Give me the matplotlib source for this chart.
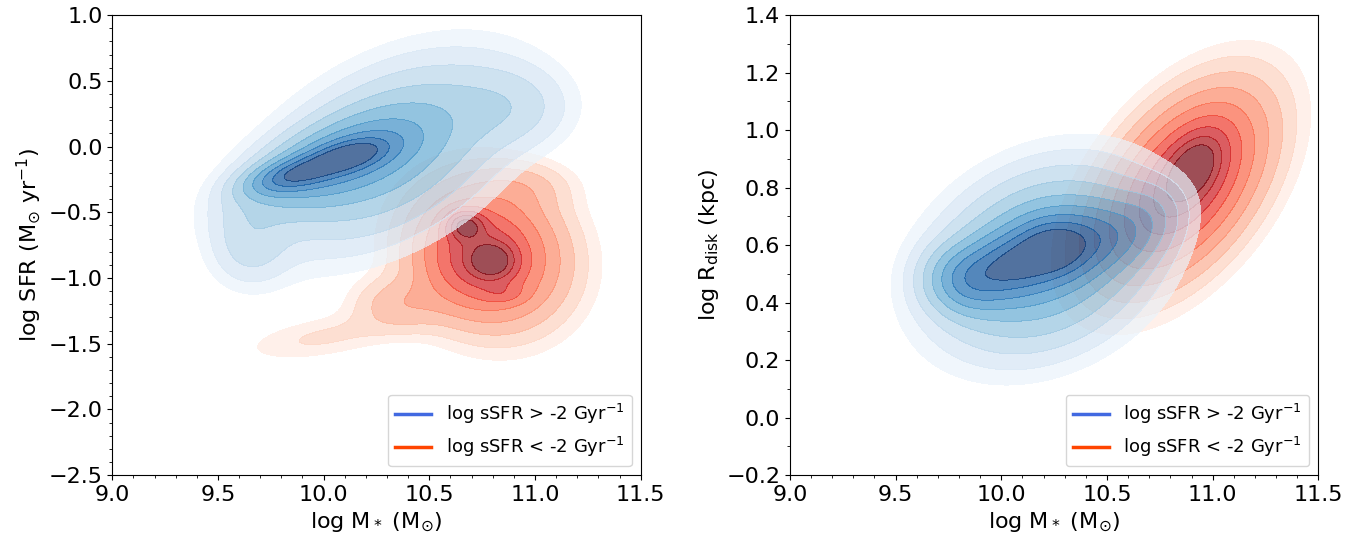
import numpy as np
import matplotlib.pyplot as plt
from matplotlib.ticker import MultipleLocator
from matplotlib.lines import Line2D

# density blobs, one row per blob:
# centre mass, centre y, width mass, width y, correlation, weight
sfr_blue = [
    [9.85, -0.22, 0.13, 0.09, 0.5, 0.50],
    [10.12, -0.07, 0.13, 0.09, 0.5, 0.50],
    [10.05, -0.12, 0.25, 0.22, 0.6, 0.40],
    [10.30, -0.05, 0.34, 0.42, 0.45, 0.28],
    [10.90, 0.30, 0.18, 0.20, 0.0, 0.08],
    [9.65, -0.75, 0.12, 0.20, 0.0, 0.09],
]
sfr_red = [
    [10.78, -0.82, 0.22, 0.33, -0.1, 0.45],
    [10.72, -0.85, 0.14, 0.20, 0.0, 0.25],
    [10.67, -0.60, 0.06, 0.075, 0.0, 0.55],
    [10.80, -0.87, 0.07, 0.09, 0.0, 0.50],
    [10.85, -1.12, 0.07, 0.05, 0.0, 0.12],
    [10.35, -1.20, 0.14, 0.13, 0.0, 0.10],
    [10.00, -1.45, 0.25, 0.12, 0.5, 0.05],
    [10.95, -0.30, 0.15, 0.12, 0.0, 0.06],
]
rdisk_blue = [
    [10.20, 0.55, 0.29, 0.18, 0.25, 0.36],
    [9.85, 0.48, 0.12, 0.07, 0.0, 0.35],
    [10.05, 0.53, 0.12, 0.07, 0.0, 0.35],
    [10.25, 0.59, 0.12, 0.07, 0.0, 0.50],
    [10.45, 0.63, 0.12, 0.07, 0.0, 0.20],
    [10.65, 0.67, 0.12, 0.08, 0.3, 0.12],
]
rdisk_red = [
    [10.85, 0.80, 0.24, 0.20, 0.50, 0.70],
    [10.88, 0.84, 0.14, 0.12, 0.5, 0.30],
    [10.92, 0.88, 0.08, 0.07, 0.4, 0.40],
]

leg_labels = ["log sSFR > -2 Gyr$^{-1}$", "log sSFR < -2 Gyr$^{-1}$"]


def density(comps, xx, yy):
    z = np.zeros_like(xx)
    for x0, y0, sx, sy, rho, w in comps:
        dx = (xx - x0) / sx
        dy = (yy - y0) / sy
        q = (dx**2 - 2 * rho * dx * dy + dy**2) / (1 - rho**2)
        z += w * np.exp(-0.5 * q)
    return z


def kde_fill(ax, comps, cmap, ylim, xmax=None):
    xs = np.linspace(8.8, 11.8, 400)
    ys = np.linspace(ylim[0], ylim[1], 400)
    xx, yy = np.meshgrid(xs, ys)
    z = density(comps, xx, yy)
    if xmax is not None:
        z[xx > xmax] = 0
    # evenly spaced rings, 9 filled bands
    r = np.linspace(2.8, 0.8, 9)
    lev = np.append(z.max() * np.exp(-0.5 * r**2), z.max() * 1.001)
    cols = plt.get_cmap(cmap)(np.linspace(0.06, 0.97, 9))
    ax.contourf(xx, yy, z, levels=lev, colors=cols, alpha=0.7)


fig = plt.figure(figsize=(13.69, 5.4), dpi=100)
ax1 = fig.add_axes([0.082, 0.12, 0.386, 0.852])
ax2 = fig.add_axes([0.577, 0.12, 0.386, 0.852])

kde_fill(ax1, sfr_red, "Reds", (-3.0, 1.5))
kde_fill(ax1, sfr_blue, "Blues", (-3.0, 1.5))
kde_fill(ax2, rdisk_red, "Reds", (-0.4, 1.7))
kde_fill(ax2, rdisk_blue, "Blues", (-0.4, 1.7), xmax=11.0)

handles = [Line2D([], [], color="royalblue", lw=2.5),
           Line2D([], [], color="orangered", lw=2.5)]

for ax in (ax1, ax2):
    ax.set_xlim(9.0, 11.5)
    ax.xaxis.set_major_locator(MultipleLocator(0.5))
    ax.xaxis.set_minor_locator(MultipleLocator(0.1))
    ax.yaxis.set_minor_locator(MultipleLocator(0.1))
    ax.tick_params(labelsize=16)
    ax.set_xlabel(r"log M$_*$ (M$_{\odot}$)", fontsize=16)
    ax.legend(handles, leg_labels, loc="lower right", fontsize=13)

ax1.set_ylim(-2.5, 1.0)
ax1.yaxis.set_major_locator(MultipleLocator(0.5))
ax1.set_ylabel(r"log SFR (M$_{\odot}$ yr$^{-1}$)", fontsize=16)

ax2.set_ylim(-0.2, 1.4)
ax2.yaxis.set_major_locator(MultipleLocator(0.2))
ax2.set_ylabel(r"log R$_{\rm disk}$ (kpc)", fontsize=16)

fig.savefig("out.png")
